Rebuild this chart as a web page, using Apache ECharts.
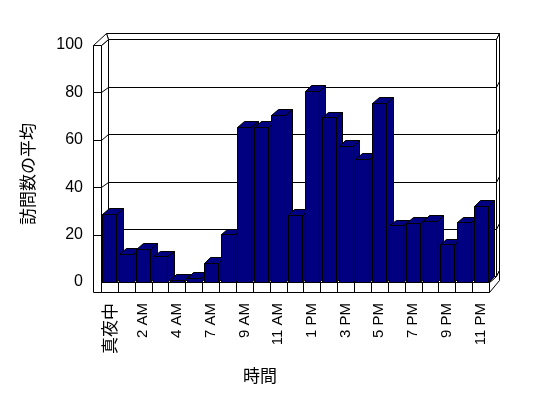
<!DOCTYPE html>
<html>
<head>
<meta charset="utf-8">
<script src="https://cdn.jsdelivr.net/npm/echarts@6/dist/echarts.min.js"></script>
<style>html,body{margin:0;padding:0;background:#fff;}#c{width:548px;height:398px;}</style>
</head>
<body>
<div id="c"></div>
<script>
// ---- data ----
var categories = ['真夜中','1 AM','2 AM','3 AM','4 AM','5 AM','7 AM','8 AM','9 AM','10 AM','11 AM','正午',
                  '1 PM','2 PM','3 PM','4 PM','5 PM','6 PM','7 PM','8 PM','9 PM','10 PM','11 PM'];
var values = [28.9, 12.0, 13.9, 10.8, 1.0, 1.8, 8.0, 20.1, 65.5, 65.5, 70.4, 28.4,
              80.6, 69.5, 57.3, 52.1, 75.5, 23.9, 25.1, 25.9, 15.9, 25.2, 32.0];
var yTicks = [0, 20, 40, 60, 80, 100];
var xTitle = '時間';
var yTitle = '訪問数の平均';

// ---- style constants ----
var DX = 6.5, DY = -5.7;      // depth offset
var BAR = '#000080';
var LINE = '#000';

function s(v) { return Math.round(v) + 0.5; }
function sp(pts) { return pts.map(function (p) { return [s(p[0]), s(p[1])]; }); }

var chart = echarts.init(document.getElementById('c'), null, {renderer: 'canvas'});

function frameItem(params, api) {
  var cs = params.coordSys;
  var xL = cs.x, xR = cs.x + cs.width;
  var yT = api.coord([0, yTicks[yTicks.length - 1]])[1];
  var y0 = api.coord([0, yTicks[0]])[1];
  var band = api.size([1, 0])[0];
  var xo = xL - 8.5, FT = 10;
  var xbL = xL + DX, xbR = xR + DX, ybT = yT + DY, yb0 = y0 + DY;
  var st = {fill: '#fff', stroke: LINE, lineWidth: 1};
  var ln = {stroke: LINE, lineWidth: 1, fill: null};
  var ch = [];
  function poly(pts) { ch.push({type: 'polygon', shape: {points: sp(pts)}, style: st}); }
  function line(a, b) { ch.push({type: 'line', shape: {x1: s(a[0]), y1: s(a[1]), x2: s(b[0]), y2: s(b[1])}, style: ln}); }
  poly([[xbL, ybT], [xbR, ybT], [xbR, yb0], [xbL, yb0]]);
  poly([[xbL - 1.5, ybT - 6], [xbR + 3.5, ybT - 6], [xbR, ybT], [xbL, ybT]]);
  poly([[xbR, ybT], [xbR + 3.5, ybT - 6], [xbR + 3.5, yb0 - 6], [xbR, yb0]]);
  poly([[xR, y0], [xbR, yb0], [xbR + 3.5, yb0 - 6], [xbR + 3.5, yb0 + FT - 6], [xR, y0 + FT]]);
  poly([[xL, yT], [xbL, ybT], [xbL, yb0], [xL, y0]]);
  poly([[xo, yT], [xL, yT], [xbL, ybT], [xbL - 1.5, ybT - 6]]);
  poly([[xL, y0], [xR, y0], [xbR, yb0], [xbL, yb0]]);
  poly([[xo, yT], [xL, yT], [xL, y0 + FT], [xo, y0 + FT]]);
  poly([[xL, y0], [xR, y0], [xR, y0 + FT], [xL, y0 + FT]]);
  for (var i = 1; i < yTicks.length - 1; i++) {
    var y = api.coord([0, yTicks[i]])[1];
    line([xbL, y + DY], [xbR, y + DY]);
    line([xL, y], [xbL, y + DY]);
    line([xo, y], [xL, y]);
    line([xbR, y + DY], [xbR + 3.5, y + DY - 6]);
  }
  for (var k = 1; k < categories.length; k++) {
    var x = xL + k * band;
    line([x, y0], [x, y0 + FT]);
  }
  return {type: 'group', children: ch};
}

function barItem(params, api) {
  var idx = api.value(0), v = api.value(1);
  var top = api.coord([idx, v]);
  var base = api.coord([idx, 0]);
  var w = api.size([1, 0])[0] * 0.83;
  var x = top[0] - w / 2, yv = top[1], y0 = base[1];
  var st = {fill: BAR, stroke: LINE, lineWidth: 1};
  var fx = s(x), fy = s(yv), fw = Math.round(w), fb = s(y0);
  return {type: 'group', children: [
    {type: 'polygon', shape: {points: sp([[x + w, yv], [x + w + DX, yv + DY], [x + w + DX, y0 + DY], [x + w, y0]])}, style: st},
    {type: 'polygon', shape: {points: sp([[x, yv], [x + w, yv], [x + w + DX, yv + DY], [x + DX, yv + DY]])}, style: st},
    {type: 'polygon', shape: {points: sp([[x, yv], [x + w, yv], [x + w, y0], [x, y0]])}, style: st}
  ]};
}

var option = {
  animation: false,
  backgroundColor: '#fff',
  grid: {left: 101, right: 59, top: 45, bottom: 116},
  xAxis: {
    type: 'category', data: categories,
    axisLine: {show: false}, axisTick: {show: false}, splitLine: {show: false},
    axisLabel: {
      interval: 1, rotate: 90, margin: 21, color: '#000', fontSize: 15,
      fontFamily: 'Liberation Sans, Noto Sans CJK JP',
      formatter: function (v) { return /[^\x00-\x7f]/.test(v) ? '{j|' + v + '}' : v; },
      rich: {j: {fontSize: 17, fontFamily: 'Noto Sans CJK JP', color: '#000'}}
    }
  },
  yAxis: {
    type: 'value', min: yTicks[0], max: yTicks[yTicks.length - 1], interval: yTicks[1] - yTicks[0],
    axisLine: {show: false}, axisTick: {show: false}, splitLine: {show: false},
    axisLabel: {margin: 18, color: '#000', fontSize: 16, fontFamily: 'Liberation Sans'}
  },
  graphic: [
    {type: 'text', x: 260, y: 376, style: {text: xTitle, fontSize: 17, fontFamily: 'Noto Sans CJK JP', fill: '#000', align: 'center', verticalAlign: 'middle'}},
    {type: 'text', x: 28, y: 174, rotation: Math.PI / 2, style: {text: yTitle, fontSize: 17, fontFamily: 'Noto Sans CJK JP', fill: '#000', align: 'center', verticalAlign: 'middle'}}
  ],
  series: [
    {type: 'custom', z: 1, silent: true, clip: false, renderItem: frameItem, data: [[0, 0]]},
    {type: 'custom', z: 2, silent: true, clip: false, renderItem: barItem,
     data: values.map(function (v, i) { return [i, v]; })}
  ]
};
chart.setOption(option);
</script>
</body>
</html>
